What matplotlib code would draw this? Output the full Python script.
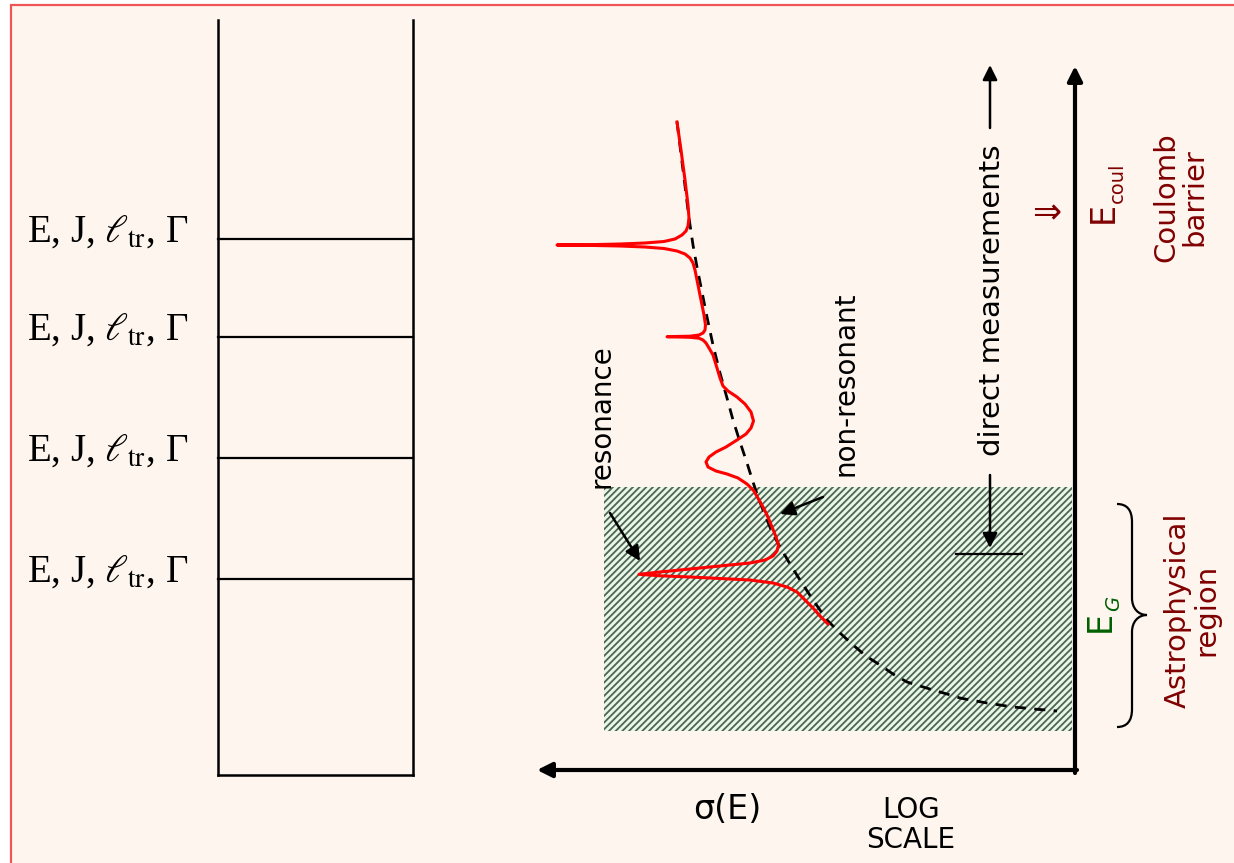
import matplotlib.pyplot as plt
from matplotlib.patches import Rectangle, PathPatch
from matplotlib.path import Path

plt.rcParams['mathtext.fontset'] = 'stix'
plt.rcParams['hatch.linewidth'] = 1.3

# level scheme (y positions of the levels)
level_y = [239, 337, 458, 579]
level_label = 'E, J, $\\ell_{\\rm tr}$, \u0393'

# dashed non-resonant cross section, sigma (x) against energy (y)
nonres_x = [677, 683, 689, 693, 697, 702, 707, 713, 720, 727, 733, 740, 747, 753, 758,
            765, 772, 780, 790, 800, 813, 827, 840, 853, 866, 880, 893, 907, 920, 933,
            947, 960, 973, 987, 1000, 1013, 1025, 1037, 1047, 1057]
nonres_y = [122, 170, 218, 245, 267, 292, 317, 345, 373, 398, 420, 442, 463, 482, 497,
            515, 532, 547, 564, 580, 600, 620, 633, 645, 656, 665, 674, 682, 686, 690,
            694, 698, 700.5, 703, 705, 707, 708, 709.3, 710, 711]

# red total cross section with resonances
total_x = [677, 681, 685, 688, 689,
           688, 686, 682, 675, 664, 645, 620, 590, 557, 590, 620, 645, 664, 677, 685, 690, 693, 695,
           698, 701, 704, 705.5,
           705, 703, 699, 690, 667, 690, 699, 703, 706, 709, 713,
           717, 720, 723,
           728, 737, 745, 751, 753.5, 751, 746, 737, 726, 716, 709, 706, 708, 716, 727, 738, 747, 754, 759,
           763, 767, 772, 776, 778.5, 777, 773, 765, 750, 720, 690, 660, 639,
           660, 690, 720, 750, 773, 787, 797, 806, 813, 820, 828]
total_y = [122, 150, 180, 205, 218,
           226, 231, 235, 239, 241.5, 243, 244, 244.7, 245, 245.4, 246, 247, 248.5, 251, 254, 258, 263, 270,
           285, 300, 315, 325,
           330, 333, 335, 336.2, 336.7, 337.3, 338.2, 340, 343, 348, 355,
           368, 378, 386,
           391, 397, 404, 412, 421, 428, 434, 440, 447, 452, 457, 462, 467, 471, 474, 478, 484, 491, 500,
           507, 515, 527, 537, 545, 551, 556, 560, 563, 566, 569, 572, 574.3,
           575.8, 577, 578.5, 580, 583, 587, 592, 601, 608, 616, 624]

dark_red = '#800000'
sans = 'DejaVu Sans'

fig = plt.figure(figsize=(12.34, 8.63), dpi=100, facecolor='white')
ax = fig.add_axes([0, 0, 1, 1])
ax.set_xlim(0, 1234)
ax.set_ylim(863, 0)
ax.axis('off')

# slide background with red frame
ax.add_patch(Rectangle((11, 5), 1300, 900, facecolor='#fdf5ee', edgecolor='#f05555', lw=1.6))

# level scheme
ax.plot([218, 218], [20, 775], color='k', lw=1.8)
ax.plot([413, 413], [20, 775], color='k', lw=1.8)
ax.plot([218, 413], [775, 775], color='k', lw=1.8)
for y in level_y:
    ax.plot([218, 413], [y, y], color='k', lw=1.6)
    ax.text(188, y + 3, level_label, ha='right', va='baseline', fontsize=28,
            family='Liberation Serif')

# astrophysical region
ax.add_patch(Rectangle((604, 487), 468, 244, facecolor='#eaf6e8', edgecolor='#4a6652',
                       lw=0, hatch='/////'))

# axes of the sigma(E) plot
ax.annotate('', xy=(1075, 66), xytext=(1075, 773),
            arrowprops=dict(arrowstyle='-|>', lw=3, color='k', mutation_scale=22,
                            shrinkA=0, shrinkB=0))
ax.annotate('', xy=(537, 770), xytext=(1077, 770),
            arrowprops=dict(arrowstyle='-|>', lw=3, color='k', mutation_scale=22,
                            shrinkA=0, shrinkB=0))

# cross sections
ax.plot(nonres_x, nonres_y, color='k', lw=2.0, dashes=(4, 3))
ax.plot(total_x, total_y, color='#ff0000', lw=2.2)

# pointers
arrow_kw = dict(arrowstyle='-|>', lw=1.8, color='k', mutation_scale=22, shrinkA=0, shrinkB=0)
ax.annotate('', xy=(640, 561), xytext=(610, 513), arrowprops=arrow_kw)
ax.annotate('', xy=(780, 514), xytext=(823, 497), arrowprops=arrow_kw)
ax.text(602, 416, 'resonance', rotation=90, ha='center', va='center', fontsize=20, family=sans)
ax.text(846, 384, 'non-resonant', rotation=90, ha='center', va='center', fontsize=20, family=sans)

# direct measurements range
ax.annotate('', xy=(990, 65), xytext=(990, 128), arrowprops=arrow_kw)
ax.annotate('', xy=(990, 548), xytext=(990, 475), arrowprops=arrow_kw)
ax.plot([956, 1022], [554, 554], color='k', lw=1.6)
ax.text(992, 300, 'direct measurements', rotation=90, ha='center', va='center',
        fontsize=21, family=sans)

# Coulomb barrier
ax.text(1047, 213, '\u21d2', ha='center', va='center', fontsize=25, color=dark_red,
        family=sans)
ax.text(1103, 212, 'E', rotation=90, ha='center', va='center', fontsize=24,
        color=dark_red, family=sans)
ax.text(1117, 183, 'coul', rotation=90, ha='center', va='center', fontsize=14,
        color=dark_red, family=sans)
ax.text(1180, 197, 'Coulomb\nbarrier', rotation=90, ha='center', va='center',
        fontsize=21, color=dark_red, family=sans, linespacing=1.0)

# Gamow window
brace = Path([(1117, 504), (1127, 504), (1132, 510), (1132, 522), (1132, 598),
              (1132, 608), (1138, 615), (1147, 615),
              (1138, 615), (1132, 622), (1132, 632), (1132, 709),
              (1132, 721), (1127, 727), (1117, 727)],
             [Path.MOVETO, Path.CURVE4, Path.CURVE4, Path.CURVE4, Path.LINETO,
              Path.CURVE4, Path.CURVE4, Path.CURVE4,
              Path.CURVE4, Path.CURVE4, Path.CURVE4, Path.LINETO,
              Path.CURVE4, Path.CURVE4, Path.CURVE4])
ax.add_patch(PathPatch(brace, facecolor='none', edgecolor='k', lw=1.6))
ax.text(1100, 621, 'E', rotation=90, ha='center', va='center', fontsize=24,
        color='#006000', family=sans)
ax.text(1114, 603, 'G', rotation=90, ha='center', va='center', fontsize=14,
        color='#006000', family=sans, style='italic')
ax.text(1192, 610, 'Astrophysical\nregion', rotation=90, ha='center', va='center',
        fontsize=21, color=dark_red, family=sans, linespacing=1.0)

# axis labels
ax.text(727, 809, '\u03c3(E)', ha='center', va='center', fontsize=24, family=sans)
ax.text(911, 825, 'LOG\nSCALE', ha='center', va='center', fontsize=20, family=sans,
        linespacing=1.1)

fig.savefig('out.png', dpi=100, facecolor=fig.get_facecolor())
